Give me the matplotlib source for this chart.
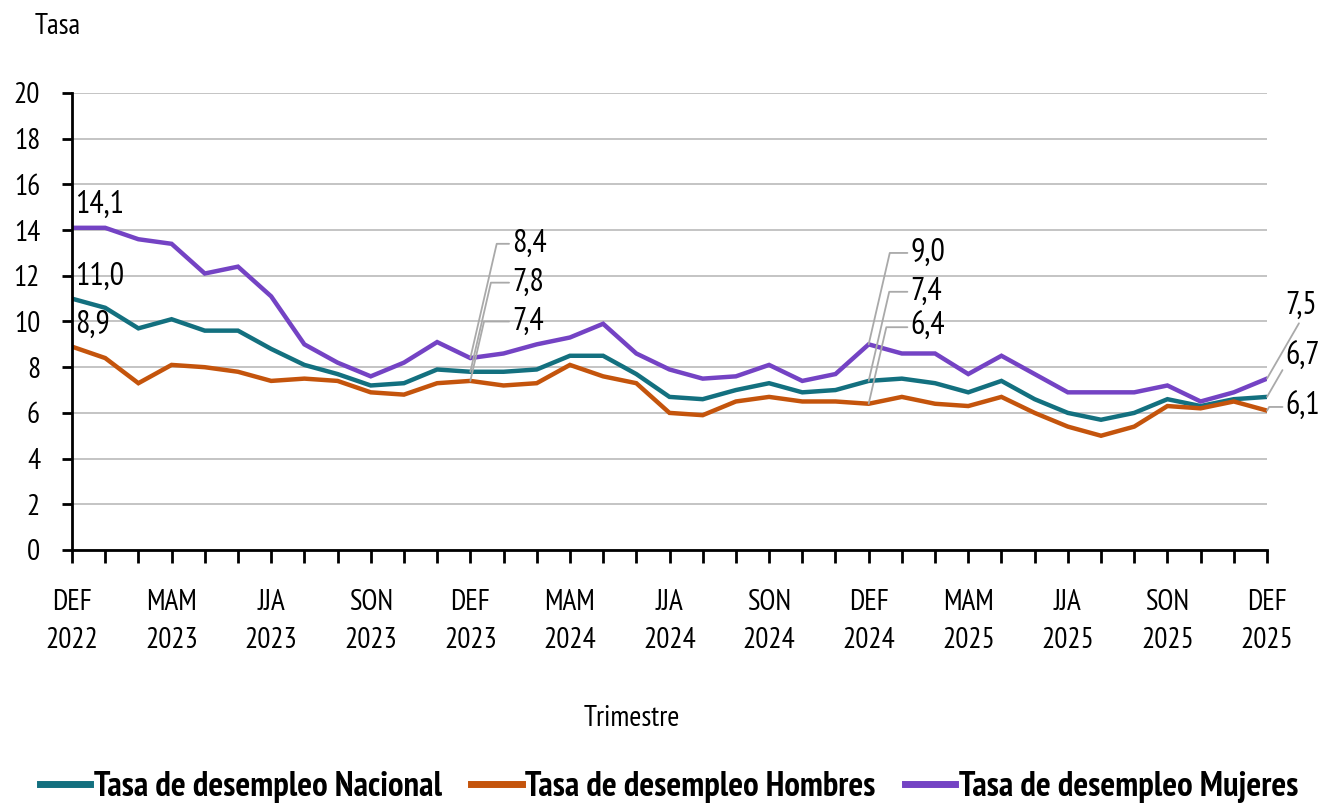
import matplotlib
matplotlib.use("Agg")
import matplotlib.pyplot as plt
from matplotlib import font_manager

FONT = ['PT Sans Narrow', 'DejaVu Sans']
plt.rcParams['font.family'] = FONT

tick_labels = ["DEF\n2022", "MAM\n2023", "JJA\n2023", "SON\n2023",
               "DEF\n2023", "MAM\n2024", "JJA\n2024", "SON\n2024",
               "DEF\n2024", "MAM\n2025", "JJA\n2025", "SON\n2025", "DEF\n2025"]

nacional = [11.0, 10.6, 9.7, 10.1, 9.6, 9.6, 8.8, 8.1, 7.7, 7.2, 7.3, 7.9,
            7.8, 7.8, 7.9, 8.5, 8.5, 7.7, 6.7, 6.6, 7.0, 7.3, 6.9, 7.0,
            7.4, 7.5, 7.3, 6.9, 7.4, 6.6, 6.0, 5.7, 6.0, 6.6, 6.3, 6.6, 6.7]
hombres = [8.9, 8.4, 7.3, 8.1, 8.0, 7.8, 7.4, 7.5, 7.4, 6.9, 6.8, 7.3,
           7.4, 7.2, 7.3, 8.1, 7.6, 7.3, 6.0, 5.9, 6.5, 6.7, 6.5, 6.5,
           6.4, 6.7, 6.4, 6.3, 6.7, 6.0, 5.4, 5.0, 5.4, 6.3, 6.2, 6.5, 6.1]
mujeres = [14.1, 14.1, 13.6, 13.4, 12.1, 12.4, 11.1, 9.0, 8.2, 7.6, 8.2, 9.1,
           8.4, 8.6, 9.0, 9.3, 9.9, 8.6, 7.9, 7.5, 7.6, 8.1, 7.4, 7.7,
           9.0, 8.6, 8.6, 7.7, 8.5, 7.7, 6.9, 6.9, 6.9, 7.2, 6.5, 6.9, 7.5]

names = ["Tasa de desempleo Nacional", "Tasa de desempleo Hombres", "Tasa de desempleo Mujeres"]
colors = ["#13707f", "#c4540c", "#7443c4"]
series = [nacional, hombres, mujeres]

W, H = 1338, 805
fig = plt.figure(figsize=(W / 100, H / 100), dpi=100)
ax = fig.add_axes([72 / W, 1 - 550 / H, (1267 - 72) / W, (550 - 93) / H])

x = list(range(len(nacional)))
for s, c, n in zip(series, colors, names):
    ax.plot(x, s, color=c, lw=3.2, label=n, solid_joinstyle='miter', zorder=3)

ax.set_xlim(0, len(x) - 1)
ax.set_ylim(0, 20)
ax.set_yticks(range(0, 21, 2))
ax.set_xticks(x)
ax.set_xticklabels([tick_labels[i // 3] if i % 3 == 0 else "" for i in x])
ax.tick_params(axis='x', direction='out', length=9, width=2, pad=19, labelsize=21)
ax.tick_params(axis='y', direction='out', length=7, width=2, pad=16, labelsize=21)
for lab in ax.get_xticklabels():
    lab.set_linespacing(1.55)

ax.grid(axis='y', color='#c4c4c4', lw=1.4, zorder=0)
for sp in ['top', 'right']:
    ax.spines[sp].set_visible(False)
for sp in ['left', 'bottom']:
    ax.spines[sp].set_linewidth(2)
    ax.spines[sp].set_zorder(4)

fig.text(35 / W, 1 - 27 / H, "Tasa", fontsize=21, va='center', ha='left')
fig.text(632 / W, 1 - 718 / H, "Trimestre", fontsize=21, va='center', ha='center')

lab_kw = dict(fontsize=23, va='center', ha='left', annotation_clip=False)
leader = dict(arrowstyle='-', color='#a9a9a9', lw=1.3, shrinkA=0, shrinkB=0,
              relpos=(0, 0.5), connectionstyle='angle,angleA=0,angleB=77,rad=0')
leader_end = dict(arrowstyle='-', color='#a9a9a9', lw=1.3, shrinkA=0, shrinkB=0,
                  relpos=(0, 0.5), connectionstyle='angle,angleA=0,angleB=60,rad=0')

def fmt(v):
    return f"{v:.1f}".replace(".", ",")

# first point labels (no leaders)
for s, ty in zip([mujeres, nacional, hombres], [15.1, 11.95, 9.85]):
    ax.annotate(fmt(s[0]), xy=(0, s[0]), xytext=(0.1, ty), textcoords='data', **lab_kw)

# DEF 2023 and DEF 2024 labels with leaders
for idx, tys in [(12, [13.4, 11.7, 10.0]), (24, [13.0, 11.3, 9.75])]:
    for s, ty in zip([mujeres, nacional, hombres], tys):
        ax.annotate(fmt(s[idx]), xy=(idx, s[idx]), xytext=(idx + 1.25, ty),
                    textcoords='data', arrowprops=leader, **lab_kw)

# last point labels
last = len(x) - 1
for s, ty in zip([mujeres, nacional, hombres], [10.7, 8.45, 6.26]):
    ax.annotate(fmt(s[last]), xy=(last, s[last]), xytext=(last + 0.55, ty),
                textcoords='data', arrowprops=leader_end, **lab_kw)

leg = fig.legend(loc='center', bbox_to_anchor=(0.5, 1 - 787 / H), ncol=3, frameon=False,
                 handlelength=1.45, handletextpad=0.1, columnspacing=0.85,
                 prop=font_manager.FontProperties(family=FONT, weight='bold', size=25))
for h in leg.legend_handles:
    h.set_linewidth(5)

fig.savefig("out.png", dpi=100)
